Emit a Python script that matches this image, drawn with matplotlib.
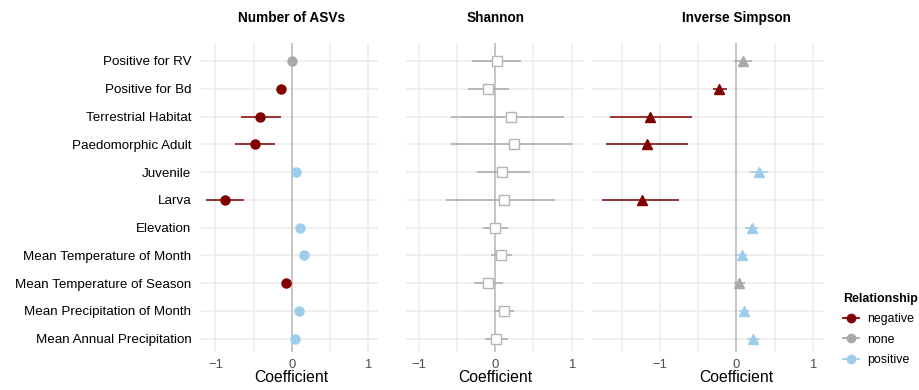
import matplotlib.pyplot as plt
from matplotlib.lines import Line2D
from matplotlib.transforms import blended_transform_factory

plt.rcParams['font.family'] = ['Liberation Sans', 'DejaVu Sans']

# predictors, top to bottom
labels = ['Positive for RV', 'Positive for Bd', 'Terrestrial Habitat', 'Paedomorphic Adult',
          'Juvenile', 'Larva', 'Elevation', 'Mean Temperature of Month',
          'Mean Temperature of Season', 'Mean Precipitation of Month', 'Mean Annual Precipitation']

# Number of ASVs
asv_coef = [0.00, -0.14, -0.41, -0.48, 0.06, -0.87, 0.11, 0.16, -0.07, 0.10, 0.05]
asv_lo = [-0.03, -0.18, -0.66, -0.74, 0.03, -1.12, 0.08, 0.13, -0.10, 0.07, 0.02]
asv_hi = [0.03, -0.10, -0.14, -0.22, 0.09, -0.63, 0.14, 0.19, -0.04, 0.13, 0.08]
asv_rel = ['none', 'negative', 'negative', 'negative', 'positive', 'negative',
           'positive', 'positive', 'negative', 'positive', 'positive']

# Shannon
sha_coef = [0.02, -0.09, 0.20, 0.25, 0.09, 0.11, 0.00, 0.08, -0.09, 0.12, 0.01]
sha_lo = [-0.31, -0.36, -0.58, -0.58, -0.24, -0.65, -0.16, -0.05, -0.28, -0.02, -0.13]
sha_hi = [0.34, 0.18, 0.90, 1.00, 0.45, 0.78, 0.17, 0.22, 0.10, 0.25, 0.16]
sha_rel = ['none'] * 11

# Inverse Simpson
inv_coef = [0.09, -0.22, -1.13, -1.17, 0.30, -1.23, 0.20, 0.07, 0.04, 0.10, 0.22]
inv_lo = [-0.03, -0.31, -1.65, -1.70, 0.18, -1.75, 0.12, 0.00, -0.03, 0.03, 0.14]
inv_hi = [0.20, -0.12, -0.58, -0.63, 0.41, -0.75, 0.28, 0.14, 0.11, 0.17, 0.30]
inv_rel = ['none', 'negative', 'negative', 'negative', 'positive', 'negative',
           'positive', 'positive', 'none', 'positive', 'positive']

colors = {'negative': '#800000', 'none': '#A9A9A9', 'positive': '#9DCDEA'}

W, H = 919, 390
fig = plt.figure(figsize=(W / 100, H / 100), dpi=100)

top_px, bot_px = 43.3, 351.7
panels = [
    ('Number of ASVs', asv_coef, asv_lo, asv_hi, asv_rel, 'o', 201, 378.3, (-1.19, 1.137), [-0.5, 0.5]),
    ('Shannon', sha_coef, sha_lo, sha_hi, sha_rel, 's', 405.7, 582.7, (-1.174, 1.145), [-0.5, 0.5]),
    ('Inverse Simpson', inv_coef, inv_lo, inv_hi, inv_rel, '^', 592.3, 822.7, (-1.882, 1.129), [-1.5, -0.5, 0.5]),
]

ypos = list(range(len(labels)))

for i, (title, coef, lo, hi, rel, mk, x0, x1, xlim, minors) in enumerate(panels):
    ax = fig.add_axes([x0 / W, 1 - bot_px / H, (x1 - x0) / W, (bot_px - top_px) / H])
    ax.set_xlim(*xlim)
    ax.set_ylim(10.468, -0.637)
    for s in ax.spines.values():
        s.set_visible(False)
    # grid
    for y in ypos:
        ax.axhline(y, color='#EBEBEB', lw=1.1, zorder=0)
    for x in [-1, 0, 1] + minors:
        ax.axvline(x, color='#EBEBEB', lw=1.1, zorder=0)
    ax.axvline(0, color='#BEBEBE', lw=1.2, zorder=1)

    for y, c, l, h, r in zip(ypos, coef, lo, hi, rel):
        col = colors[r]
        ax.plot([l, h], [y, y], color=col, lw=1.1, zorder=2, solid_capstyle='butt')
        if mk == 's':
            ax.plot(c, y, marker='s', ms=7, mfc='white', mec='#B5B5B5', mew=1.0, zorder=3)
        elif mk == '^':
            ax.plot(c, y, marker='^', ms=7.5, color=col, mec=col, zorder=3)
        else:
            ax.plot(c, y, marker='o', ms=6.5, color=col, mec=col, zorder=3)

    ax.set_xticks([-1, 0, 1])
    ax.set_xticklabels(['\u22121', '0', '1'])
    ax.tick_params(axis='x', length=0, pad=5, labelsize=9.4, labelcolor='#4D4D4D')
    ax.set_yticks(ypos)
    if i == 0:
        ax.set_yticklabels(labels)
        ax.tick_params(axis='y', length=0, pad=7, labelsize=9.6, labelcolor='black')
    else:
        ax.set_yticklabels([])
        ax.tick_params(axis='y', length=0)

    tr = blended_transform_factory(ax.transData, fig.transFigure)
    ax.text(0, 1 - 18.3 / H, title, transform=tr, ha='center', va='center',
            fontsize=9.8, fontweight='bold')
    ax.text(0, 1 - 378 / H, 'Coefficient', transform=tr, ha='center', va='center',
            fontsize=11.3)

handles = [Line2D([0], [0], color=colors[k], marker='o', ms=6, lw=1.3) for k in ['negative', 'none', 'positive']]
leg = fig.legend(handles, ['negative', 'none', 'positive'], title='Relationship',
                 loc='upper left', bbox_to_anchor=(831.5 / W, 1 - 281.7 / H), frameon=False,
                 fontsize=8.9, title_fontproperties={'weight': 'bold', 'size': 8.9},
                 alignment='left', handlelength=1.34, handletextpad=0.68, labelspacing=0.68)

fig.savefig('out.png', dpi=100)
